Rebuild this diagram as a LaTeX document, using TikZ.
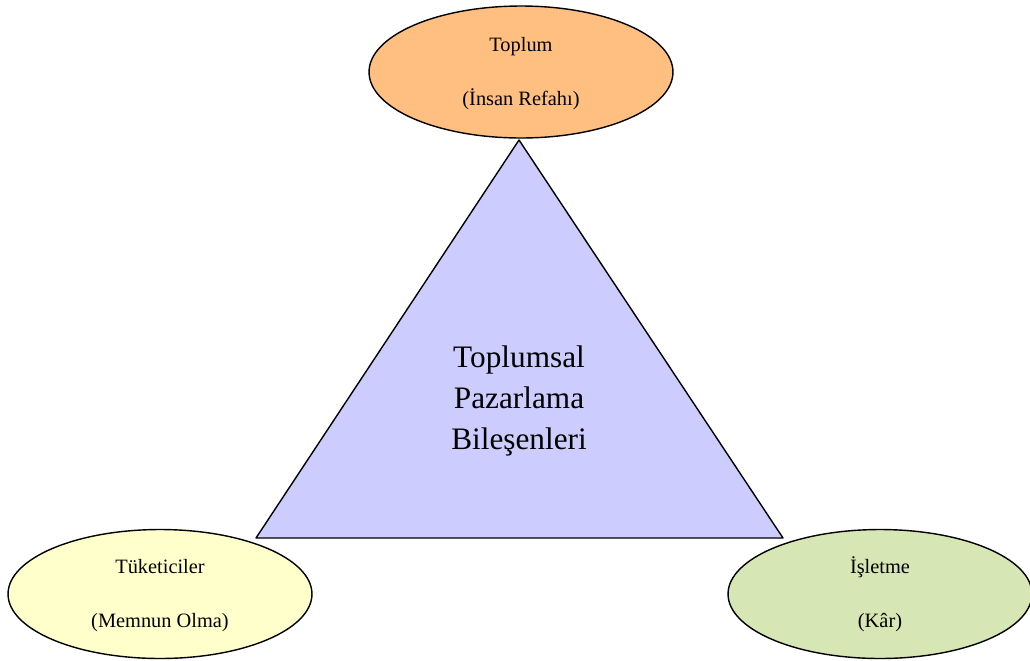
\documentclass[tikz,border=0pt]{standalone}
\usepackage{fontspec}
\setmainfont{Liberation Serif}
\usetikzlibrary{shapes.geometric,positioning}
\definecolor{turuncu}{HTML}{FFBF80}
\definecolor{lila}{HTML}{CCCCFF}
\definecolor{sari}{HTML}{FFFFCC}
\definecolor{yesil}{HTML}{D7E6B5}

\begin{document}
\begin{tikzpicture}[x=0.02cm,y=-0.02cm,line join=round,
    bilesen/.style={ellipse,draw,line width=0.8pt,minimum width=6.08cm,minimum height=2.58cm,
        align=center,font=\fontsize{11.6pt}{14pt}\selectfont}]
    \useasboundingbox (0,0) rectangle (1030,660);
    % ucgen
    \coordinate (tepe) at (519,140);
    \coordinate (solkose) at (256,538);
    \coordinate (sagkose) at (783,538);
    \draw[fill=lila,line width=0.8pt] (tepe)--(solkose)--(sagkose)--cycle;
    \node[align=center,font=\fontsize{17.8pt}{23.5pt}\selectfont] (merkez) at (519,401) {Toplumsal\\Pazarlama\\Bileşenleri};

    \node[bilesen,fill=turuncu,minimum height=2.64cm] (toplum) at (521,72) {\vphantom{İ}Toplum\\[17pt](İnsan Refahı)};
    \node[bilesen,fill=sari] (tuketici) at (160,594) {\vphantom{İ}Tüketiciler\\[17pt](Memnun Olma)};
    \node[bilesen,fill=yesil] (isletme) at (880,594) {İşletme\\[17pt](Kâr)};
\end{tikzpicture}
\end{document}
